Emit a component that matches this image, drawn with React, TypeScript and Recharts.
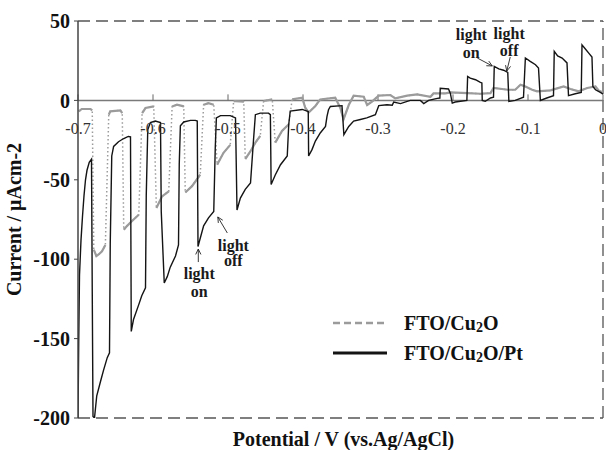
import {
  LineChart,
  Line,
  XAxis,
  YAxis,
  ReferenceLine,
  ReferenceDot,
  Legend,
} from "recharts";

const SERIF = '"Liberation Serif", "Times New Roman", serif';

// chopped-light scans, [potential (V vs Ag/AgCl), current (uA/cm2)]
const cu2oPoints: [number, number][] = [
  [-0.699, -6.9], [-0.695, -5.4], [-0.6835, -5.4], [-0.681, -6.3],
  [-0.679, -94], [-0.6755, -98], [-0.6725, -97], [-0.668, -95], [-0.6635, -91],
  [-0.659, -9], [-0.657, -6.9], [-0.6435, -6.3], [-0.641, -8],
  [-0.639, -81.5], [-0.6345, -79], [-0.628, -76], [-0.619, -72],
  [-0.6145, -8], [-0.61, -4.8], [-0.599, -3.8],
  [-0.5955, -67.8], [-0.588, -60.5], [-0.579, -57.3],
  [-0.5745, -3.8], [-0.568, -2.7], [-0.559, -3.8],
  [-0.557, -58], [-0.548, -54], [-0.537, -46.8],
  [-0.5325, -2.7], [-0.526, -1.7], [-0.519, -2.7],
  [-0.5145, -40.5], [-0.506, -33], [-0.497, -28],
  [-0.4925, -0.6], [-0.49, -0.4], [-0.479, -0.8],
  [-0.477, -37], [-0.47, -32], [-0.4635, -26.6], [-0.457, -22.4],
  [-0.4525, -0.4], [-0.441, 0.6],
  [-0.437, -26.6], [-0.428, -19.3], [-0.419, -15],
  [-0.4145, 0.6], [-0.401, 1.7],
  [-0.397, -4.6], [-0.3925, -7.7], [-0.3835, -3.5], [-0.377, 0.6], [-0.357, 1.7],
  [-0.35, -5], [-0.346, -12], [-0.339, -2.9], [-0.3325, 3], [-0.319, 2.3],
  [-0.3145, -2.9], [-0.308, -0.8], [-0.299, 3], [-0.2835, 3.4], [-0.277, 1.3],
  [-0.261, 3], [-0.248, 3.8], [-0.23, 2.3], [-0.226, 4.4], [-0.21, 4.4],
  [-0.2035, 5], [-0.181, 4.6], [-0.1635, 4.2], [-0.15, 4.6], [-0.146, 7.8],
  [-0.127, 6.7], [-0.117, 6.7], [-0.11, 9.9], [-0.1035, 8.8], [-0.0945, 6.7],
  [-0.088, 5.7], [-0.07, 6.3], [-0.0525, 8.8], [-0.0435, 7.2], [-0.0325, 5.7],
  [-0.021, 7.8], [-0.01, 8.8], [-0.006, 6.3], [0, 5],
];

const ptPoints: [number, number][] = [
  [-0.7, -200], [-0.699, -150], [-0.698, -110], [-0.696, -88], [-0.694, -73],
  [-0.692, -60], [-0.69, -50], [-0.688, -44], [-0.685, -39], [-0.682, -37],
  [-0.681, -120], [-0.68, -199], [-0.678, -200], [-0.675, -186], [-0.67, -177],
  [-0.666, -170], [-0.661, -162], [-0.658, -159],
  [-0.657, -90], [-0.655, -35], [-0.6525, -29], [-0.646, -26], [-0.639, -24],
  [-0.633, -22.7], [-0.63, -23],
  [-0.629, -145.5], [-0.626, -138], [-0.619, -128.6], [-0.615, -123], [-0.61, -118],
  [-0.609, -60], [-0.607, -18.5], [-0.6035, -14], [-0.597, -13], [-0.59, -14],
  [-0.589, -70], [-0.585, -115], [-0.581, -111], [-0.577, -105], [-0.57, -98], [-0.566, -91],
  [-0.565, -40], [-0.5635, -16], [-0.559, -13.6], [-0.55, -12.6], [-0.5435, -12.6], [-0.541, -13],
  [-0.54, -92], [-0.5325, -79], [-0.526, -74], [-0.519, -70],
  [-0.517, -30], [-0.5155, -11], [-0.51, -9.6], [-0.497, -9.6], [-0.4925, -10.5], [-0.49, -11],
  [-0.488, -69], [-0.4835, -61.5], [-0.477, -56], [-0.47, -52],
  [-0.466, -25], [-0.4635, -9], [-0.457, -8], [-0.446, -8], [-0.4435, -9],
  [-0.4425, -53], [-0.437, -47], [-0.43, -40.5], [-0.421, -35],
  [-0.419, -15], [-0.417, -6.7], [-0.401, -5.7], [-0.3945, -6.7], [-0.393, -7],
  [-0.3925, -35], [-0.388, -31], [-0.3835, -25.6], [-0.377, -20.5], [-0.37, -16.4],
  [-0.368, -10], [-0.366, -5.9], [-0.3635, -3.8], [-0.348, -3.3],
  [-0.3455, -21.6], [-0.339, -16.4], [-0.3325, -13], [-0.3235, -12], [-0.315, -11], [-0.3035, -9],
  [-0.299, -3.3], [-0.288, -2.7], [-0.281, -3], [-0.279, -1], [-0.27, -2], [-0.257, 0],
  [-0.2435, 0], [-0.239, -2], [-0.2325, 0], [-0.221, 1.3], [-0.2175, 1.5],
  [-0.217, 7.6], [-0.206, 7.2], [-0.2035, 4.4], [-0.201, -1.7], [-0.197, -1], [-0.1815, 0],
  [-0.1805, 15.1], [-0.177, 14], [-0.17, 13], [-0.1635, 11.3], [-0.1615, 11],
  [-0.161, 0], [-0.157, -0.6], [-0.15, 1.5], [-0.146, 2],
  [-0.145, 21.4], [-0.139, 19.8], [-0.1325, 19], [-0.127, 17.6],
  [-0.1255, -0.6], [-0.117, 0], [-0.106, 2],
  [-0.1035, 26.7], [-0.097, 24.6], [-0.09, 22.5], [-0.086, 20.4],
  [-0.0835, 0], [-0.075, 1.5], [-0.066, 3],
  [-0.065, 30.9], [-0.0605, 28], [-0.0545, 26.7], [-0.048, 23.6],
  [-0.046, 3], [-0.037, 4.2], [-0.029, 5],
  [-0.028, 35], [-0.0235, 32.4], [-0.019, 29.8], [-0.0147, 27.3],
  [-0.0135, 8.8], [-0.01, 6.7], [-0.0035, 5], [0, 4],
];

const seriesNames = ["FTO/Cu2O", "FTO/Cu2O/Pt"];
const xTicks = [-0.7, -0.6, -0.5, -0.4, -0.3, -0.2, -0.1, 0];
const xTickLabels = ["-0.7", "-0.6", "-0.5", "-0.4", "-0.3", "-0.2", "-0.1", "0"];
const yTicks = [50, 0, -50, -100, -150, -200];

// "light on / light off" notes: text rows and arrow (from -> to) in data units
const notes = [
  { v: -0.5383, rows: [["light", -108.7], ["on", -120]], from: [-0.5396, -101.8], to: [-0.5396, -93.6] },
  { v: -0.4929, rows: [["light", -91], ["off", -101]], from: [-0.5009, -83.5], to: [-0.5136, -73.4] },
  { v: -0.1756, rows: [["light", 41.8], ["on", 30.5]], from: [-0.1676, 26.7], to: [-0.1476, 21.7] },
  { v: -0.1251, rows: [["light", 42.4], ["off", 31.7]], from: [-0.1237, 27.3], to: [-0.1283, 18.5] },
];

const GRAY = "#9b9b9b";
const BLACK = "#141414";
const FRAME = "#555";

const cu2oData = cu2oPoints.map(([v, i]) => ({ v, i }));
const ptData = ptPoints.map(([v, i]) => ({ v, i }));

// plateaus drawn solid, the light on/off jumps stay dotted
const cu2oSolid: { v: number; i: number | null }[] = [];
cu2oData.forEach((p, k) => {
  const prev = cu2oData[k - 1];
  if (prev && Math.abs(p.i - prev.i) > 12) {
    cu2oSolid.push({ v: (p.v + prev.v) / 2, i: null });
  }
  cu2oSolid.push(p);
});

const withSub = (name: string) =>
  name.split(/(2)/).map((part, k) =>
    part === "2" ? (
      <span key={k} style={{ fontSize: 14, position: "relative", top: 2 }}>
        2
      </span>
    ) : (
      <span key={k}>{part}</span>
    )
  );

const Arrow = (props: any) => {
  const { x1, y1, x2, y2 } = props;
  const a = Math.atan2(y2 - y1, x2 - x1);
  const len = 6;
  const spread = 0.45;
  return (
    <g stroke="#222" strokeWidth={0.9} fill="none">
      <line x1={x1} y1={y1} x2={x2} y2={y2} />
      <line x1={x2} y1={y2} x2={x2 - len * Math.cos(a - spread)} y2={y2 - len * Math.sin(a - spread)} />
      <line x1={x2} y1={y2} x2={x2 - len * Math.cos(a + spread)} y2={y2 - len * Math.sin(a + spread)} />
    </g>
  );
};

const renderXTitle = (props: any) => {
  const vb = props.viewBox || { x: 78, y: 418, width: 525 };
  return (
    <text
      x={vb.x + vb.width / 2 + 3}
      y={vb.y + 28}
      textAnchor="middle"
      fontFamily={SERIF}
      fontWeight="bold"
      fontSize={20}
      fill="#111"
    >
      Potential / V (vs.Ag/AgCl)
    </text>
  );
};

const renderYTitle = (props: any) => {
  const vb = props.viewBox || { x: 0, y: 21, height: 397 };
  const x = 21;
  const y = vb.y + vb.height / 2;
  return (
    <text
      x={x}
      y={y}
      transform={`rotate(-90, ${x}, ${y})`}
      textAnchor="middle"
      fontFamily={SERIF}
      fontWeight="bold"
      fontSize={20}
      fill="#111"
    >
      Current / μAcm-2
    </text>
  );
};

const renderLegend = () => (
  <div style={{ fontFamily: SERIF, fontWeight: "bold", fontSize: 20, color: "#111" }}>
    {seriesNames.map((name, k) => (
      <div key={name} style={{ display: "flex", alignItems: "center", height: 30 }}>
        <svg width={58} height={10}>
          <line
            x1={3}
            y1={5}
            x2={57}
            y2={5}
            stroke={k === 0 ? GRAY : BLACK}
            strokeWidth={k === 0 ? 2.5 : 3}
            strokeDasharray={k === 0 ? "7 4" : undefined}
          />
        </svg>
        <span style={{ marginLeft: 16, whiteSpace: "nowrap" }}>{withSub(name)}</span>
      </div>
    ))}
  </div>
);

const noteLabel = (value: string) => ({
  value,
  position: "center" as const,
  fontFamily: SERIF,
  fontWeight: "bold",
  fontSize: 16,
  fill: "#1a1a1a",
});

export default function App() {
  return (
    <div style={{ position: "absolute", left: 0, top: 0, width: 606, height: 450, background: "#fff" }}>
      <LineChart width={606} height={450} margin={{ top: 21, right: 3, bottom: 0, left: 0 }}>
        <XAxis
          type="number"
          dataKey="v"
          domain={[-0.7, 0]}
          ticks={xTicks}
          tick={false}
          tickLine={false}
          axisLine={false}
          height={32}
          allowDataOverflow
          label={renderXTitle}
        />
        <YAxis
          type="number"
          domain={[-200, 50]}
          ticks={yTicks}
          interval={0}
          width={78}
          tickSize={4}
          tickMargin={4}
          allowDataOverflow
          axisLine={{ stroke: "#444", strokeWidth: 1.5 }}
          tickLine={{ stroke: "#444" }}
          tick={{ fontFamily: SERIF, fontSize: 20, fontWeight: "bold", fill: "#111" }}
          label={renderYTitle}
        />

        <ReferenceLine y={50} stroke={FRAME} strokeWidth={1.3} strokeDasharray="12 6" />
        <ReferenceLine y={-200} stroke={FRAME} strokeWidth={1.3} strokeDasharray="12 6" />
        <ReferenceLine x={0} stroke={FRAME} strokeWidth={1.3} strokeDasharray="12 6" />
        <ReferenceLine y={0} stroke="#7a7a7a" strokeWidth={1.5} />

        {xTicks.map((t) => (
          <ReferenceLine
            key={`tick${t}`}
            segment={[{ x: t, y: 0 }, { x: t, y: 3.8 }]}
            stroke="#666"
            strokeWidth={1}
          />
        ))}
        {xTicks.map((t, k) => (
          <ReferenceDot
            key={`tl${t}`}
            x={t}
            y={0}
            r={0}
            fill="none"
            stroke="none"
            label={{
              value: xTickLabels[k],
              position: "bottom",
              offset: 22,
              fontFamily: SERIF,
              fontSize: 16,
              fill: "#333",
            }}
          />
        ))}

        <Line
          data={cu2oData}
          dataKey="i"
          type="linear"
          stroke={GRAY}
          strokeWidth={1.5}
          strokeDasharray="1.5 2.5"
          dot={false}
          isAnimationActive={false}
        />
        <Line
          data={cu2oSolid}
          dataKey="i"
          type="linear"
          stroke={GRAY}
          strokeWidth={2.2}
          dot={false}
          connectNulls={false}
          isAnimationActive={false}
        />
        <Line
          data={ptData}
          dataKey="i"
          type="linear"
          stroke={BLACK}
          strokeWidth={1.4}
          dot={false}
          isAnimationActive={false}
        />

        {notes.map((n, k) => (
          <ReferenceLine
            key={`arrow${k}`}
            segment={[{ x: n.from[0], y: n.from[1] }, { x: n.to[0], y: n.to[1] }]}
            shape={Arrow}
          />
        ))}
        {notes.flatMap((n, k) =>
          n.rows.map(([text, i]) => (
            <ReferenceDot
              key={`note${k}${text}`}
              x={n.v}
              y={i as number}
              r={0}
              fill="none"
              stroke="none"
              label={noteLabel(text as string)}
            />
          ))
        )}

        <Legend
          verticalAlign="middle"
          layout="horizontal"
          content={renderLegend}
          wrapperStyle={{ left: 330, top: 308, width: 240 }}
        />
      </LineChart>
    </div>
  );
}
